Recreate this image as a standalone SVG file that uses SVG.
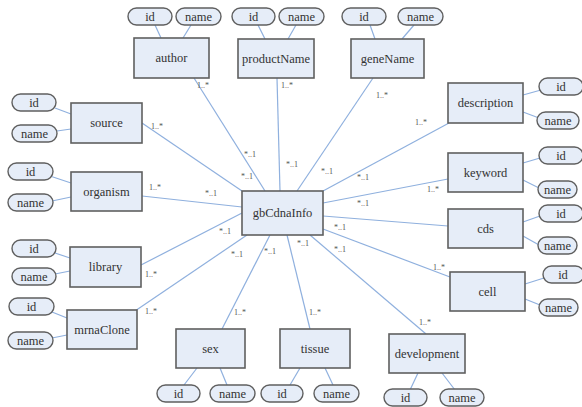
<svg xmlns="http://www.w3.org/2000/svg" width="582" height="407" viewBox="0 0 582 407" font-family="Liberation Serif, DejaVu Serif, serif">
<style>
.bg{fill:#ffffff}
.ent{fill:#e6edf8;stroke:#5f5f5f;stroke-width:1.6}
.att{fill:#e6edf8;stroke:#5f5f5f;stroke-width:1.4}
.ln{stroke:#8fb0de;stroke-width:1.2;fill:none}
.t{font-size:12.5px;fill:#333;text-anchor:middle}
.m{font-size:8px;fill:#555;text-anchor:middle}
</style>
<rect class="bg" x="0" y="0" width="582" height="407"/>
<g id="connectors">
<line class="ln" x1="194" y1="78" x2="265" y2="191"/>
<line class="ln" x1="277" y1="78" x2="280" y2="191"/>
<line class="ln" x1="373" y1="78" x2="297" y2="191"/>
<line class="ln" x1="449" y1="123" x2="323" y2="191"/>
<line class="ln" x1="448" y1="179" x2="323" y2="203"/>
<line class="ln" x1="448" y1="226" x2="323" y2="216"/>
<line class="ln" x1="450" y1="277" x2="323" y2="229"/>
<line class="ln" x1="426" y1="334" x2="310" y2="235"/>
<line class="ln" x1="310" y1="329" x2="287" y2="235"/>
<line class="ln" x1="222" y1="329" x2="270" y2="235"/>
<line class="ln" x1="135" y1="311" x2="247" y2="235"/>
<line class="ln" x1="141" y1="265" x2="242" y2="213"/>
<line class="ln" x1="142" y1="196" x2="242" y2="207"/>
<line class="ln" x1="142" y1="123" x2="242" y2="191"/>
<line class="ln" x1="155" y1="25" x2="161" y2="38"/>
<line class="ln" x1="191" y1="25" x2="183" y2="38"/>
<line class="ln" x1="258" y1="25" x2="265" y2="39"/>
<line class="ln" x1="296" y1="25" x2="288" y2="39"/>
<line class="ln" x1="370" y1="25" x2="375" y2="39"/>
<line class="ln" x1="414" y1="25" x2="402" y2="39"/>
<line class="ln" x1="541" y1="90" x2="523" y2="95"/>
<line class="ln" x1="539" y1="118" x2="523" y2="112"/>
<line class="ln" x1="55" y1="108" x2="71" y2="114"/>
<line class="ln" x1="57" y1="131" x2="71" y2="129"/>
<line class="ln" x1="50" y1="176" x2="71" y2="183"/>
<line class="ln" x1="52" y1="201" x2="71" y2="197"/>
<line class="ln" x1="55" y1="253" x2="70" y2="258"/>
<line class="ln" x1="55" y1="274" x2="70" y2="271"/>
<line class="ln" x1="52" y1="312" x2="67" y2="318"/>
<line class="ln" x1="52" y1="338" x2="67" y2="335"/>
<line class="ln" x1="184" y1="385" x2="197" y2="368"/>
<line class="ln" x1="227" y1="385" x2="220" y2="368"/>
<line class="ln" x1="290" y1="385" x2="300" y2="368"/>
<line class="ln" x1="333" y1="385" x2="325" y2="368"/>
<line class="ln" x1="410" y1="390" x2="418" y2="373"/>
<line class="ln" x1="455" y1="390" x2="442" y2="373"/>
<line class="ln" x1="544" y1="278" x2="525" y2="284"/>
<line class="ln" x1="540" y1="305" x2="525" y2="299"/>
<line class="ln" x1="540" y1="158" x2="523" y2="163"/>
<line class="ln" x1="539" y1="188" x2="523" y2="180"/>
<line class="ln" x1="540" y1="216" x2="523" y2="222"/>
<line class="ln" x1="539" y1="245" x2="523" y2="236"/>
</g>
<g id="labels">
<text class="m" x="203" y="88">1..*</text>
<text class="m" x="287" y="88">1..*</text>
<text class="m" x="382" y="98">1..*</text>
<text class="m" x="421" y="125">1..*</text>
<text class="m" x="157" y="129">1..*</text>
<text class="m" x="155" y="190">1..*</text>
<text class="m" x="151" y="277">1..*</text>
<text class="m" x="151" y="314">1..*</text>
<text class="m" x="240" y="315">1..*</text>
<text class="m" x="315" y="315">1..*</text>
<text class="m" x="425" y="325">1..*</text>
<text class="m" x="439" y="270">1..*</text>
<text class="m" x="433" y="192">1..*</text>
<text class="m" x="250" y="157">*..1</text>
<text class="m" x="247" y="179">*..1</text>
<text class="m" x="211" y="196">*..1</text>
<text class="m" x="292" y="167">*..1</text>
<text class="m" x="327" y="174">*..1</text>
<text class="m" x="363" y="180">*..1</text>
<text class="m" x="363" y="206">*..1</text>
<text class="m" x="225" y="234">*..1</text>
<text class="m" x="237" y="257">*..1</text>
<text class="m" x="270" y="254">*..1</text>
<text class="m" x="303" y="246">*..1</text>
<text class="m" x="340" y="230">*..1</text>
<text class="m" x="340" y="252">*..1</text>
</g>
<g id="gbCdnaInfo"><rect class="ent" x="242" y="191" width="81" height="44"/><text class="t" x="282.5" y="217">gbCdnaInfo</text></g>
<g id="author"><rect class="ent" x="134" y="38" width="75" height="40"/><text class="t" x="171.5" y="62">author</text>
<rect class="att" x="128" y="8" width="44" height="17" rx="8.5"/><text class="t" x="150" y="21">id</text>
<rect class="att" x="176" y="8" width="45" height="17" rx="8.5"/><text class="t" x="198.5" y="21">name</text></g>
<g id="productName"><rect class="ent" x="238" y="39" width="76" height="39"/><text class="t" x="276" y="63">productName</text>
<rect class="att" x="232" y="8" width="43" height="17" rx="8.5"/><text class="t" x="253.5" y="21">id</text>
<rect class="att" x="279" y="8" width="45" height="17" rx="8.5"/><text class="t" x="301.5" y="21">name</text></g>
<g id="geneName"><rect class="ent" x="351" y="39" width="73" height="39"/><text class="t" x="387.5" y="63">geneName</text>
<rect class="att" x="342" y="8" width="44" height="17" rx="8.5"/><text class="t" x="364" y="21">id</text>
<rect class="att" x="398" y="8" width="45" height="17" rx="8.5"/><text class="t" x="420.5" y="21">name</text></g>
<g id="description"><rect class="ent" x="448" y="83" width="75" height="40"/><text class="t" x="485.5" y="107">description</text>
<rect class="att" x="539" y="78" width="44" height="17" rx="8.5"/><text class="t" x="561" y="91">id</text>
<rect class="att" x="537" y="112" width="42" height="17" rx="8.5"/><text class="t" x="558" y="125">name</text></g>
<g id="keyword"><rect class="ent" x="448" y="153" width="75" height="39"/><text class="t" x="485.5" y="177">keyword</text>
<rect class="att" x="539" y="147" width="44" height="17" rx="8.5"/><text class="t" x="561" y="160">id</text>
<rect class="att" x="538" y="181" width="39" height="17" rx="8.5"/><text class="t" x="557.5" y="194">name</text></g>
<g id="cds"><rect class="ent" x="448" y="209" width="75" height="39"/><text class="t" x="485.5" y="233">cds</text>
<rect class="att" x="539" y="205" width="44" height="17" rx="8.5"/><text class="t" x="561" y="218">id</text>
<rect class="att" x="538" y="237" width="39" height="17" rx="8.5"/><text class="t" x="557.5" y="250">name</text></g>
<g id="cell"><rect class="ent" x="450" y="272" width="75" height="39"/><text class="t" x="487.5" y="296">cell</text>
<rect class="att" x="543" y="266" width="41" height="17" rx="8.5"/><text class="t" x="563" y="279">id</text>
<rect class="att" x="539" y="299" width="39" height="17" rx="8.5"/><text class="t" x="558.5" y="312">name</text></g>
<g id="development"><rect class="ent" x="389" y="334" width="76" height="39"/><text class="t" x="427" y="358">development</text>
<rect class="att" x="384" y="389" width="43" height="17" rx="8.5"/><text class="t" x="405.5" y="402">id</text>
<rect class="att" x="440" y="389" width="44" height="17" rx="8.5"/><text class="t" x="462" y="402">name</text></g>
<g id="tissue"><rect class="ent" x="280" y="329" width="70" height="39"/><text class="t" x="315" y="353">tissue</text>
<rect class="att" x="261" y="385" width="42" height="17" rx="8.5"/><text class="t" x="282" y="398">id</text>
<rect class="att" x="314" y="385" width="45" height="17" rx="8.5"/><text class="t" x="336.5" y="398">name</text></g>
<g id="sex"><rect class="ent" x="176" y="329" width="69" height="39"/><text class="t" x="210.5" y="353">sex</text>
<rect class="att" x="157" y="385" width="43" height="17" rx="8.5"/><text class="t" x="178.5" y="398">id</text>
<rect class="att" x="210" y="385" width="45" height="17" rx="8.5"/><text class="t" x="232.5" y="398">name</text></g>
<g id="mrnaClone"><rect class="ent" x="67" y="310" width="70" height="39"/><text class="t" x="102" y="334">mrnaClone</text>
<rect class="att" x="9" y="298" width="45" height="17" rx="8.5"/><text class="t" x="31.5" y="311">id</text>
<rect class="att" x="8" y="332" width="45" height="17" rx="8.5"/><text class="t" x="30.5" y="345">name</text></g>
<g id="library"><rect class="ent" x="70" y="247" width="71" height="40"/><text class="t" x="105.5" y="271">library</text>
<rect class="att" x="12" y="240" width="44" height="17" rx="8.5"/><text class="t" x="34" y="253">id</text>
<rect class="att" x="12" y="268" width="44" height="17" rx="8.5"/><text class="t" x="34" y="281">name</text></g>
<g id="organism"><rect class="ent" x="71" y="172" width="71" height="39"/><text class="t" x="106.5" y="196">organism</text>
<rect class="att" x="8" y="163" width="45" height="17" rx="8.5"/><text class="t" x="30.5" y="176">id</text>
<rect class="att" x="8" y="194" width="45" height="17" rx="8.5"/><text class="t" x="30.5" y="207">name</text></g>
<g id="source"><rect class="ent" x="71" y="103" width="71" height="40"/><text class="t" x="106.5" y="127">source</text>
<rect class="att" x="12" y="94" width="44" height="17" rx="8.5"/><text class="t" x="34" y="107">id</text>
<rect class="att" x="12" y="125" width="45" height="17" rx="8.5"/><text class="t" x="34.5" y="138">name</text></g>
</svg>
